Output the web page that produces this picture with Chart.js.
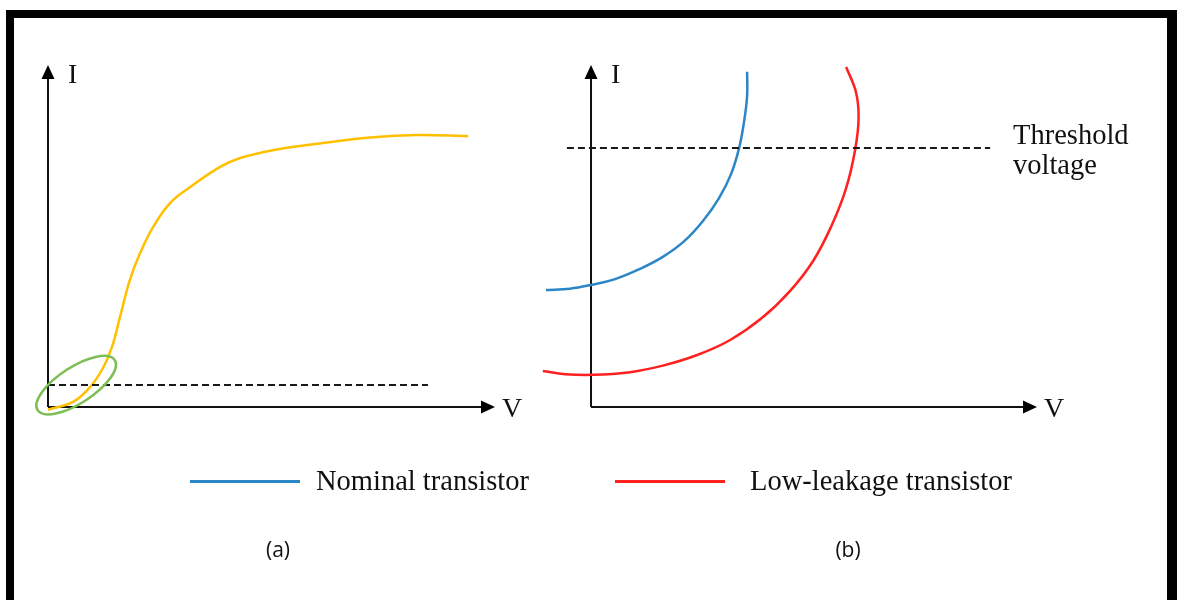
<!DOCTYPE html>
<html>
<head>
<meta charset="utf-8">
<script src="https://cdn.jsdelivr.net/npm/chart.js@4.4.1/dist/chart.umd.min.js"></script>
<style>
    html, body { margin: 0; padding: 0; background: #fff; }
    #page { position: relative; width: 1177px; height: 600px; overflow: hidden; background: #fff; }
    #frame {
        position: absolute; left: 6px; top: 10px; width: 1171px; height: 620px;
        box-sizing: border-box;
        border-top: 8px solid #000; border-left: 8px solid #000; border-right: 10px solid #000;
    }
    canvas { position: absolute; left: 0; top: 0; }
    .serif {
        position: absolute; white-space: nowrap; color: #111;
        font-family: 'Liberation Serif', 'Times New Roman', serif; font-size: 28.5px; line-height: 28px;
    }
    .cap {
        position: absolute; width: 60px; text-align: center; color: #111;
        font-family: 'Open Sans', sans-serif; font-size: 21px; line-height: 21px;
    }
    .swatch { position: absolute; height: 3px; width: 110px; }
</style>
</head>
<body>
<div id="page">
    <div id="frame"></div>
    <canvas id="panelA" width="1177" height="600"></canvas>
    <canvas id="panelB" width="1177" height="600"></canvas>

    <div class="serif" style="left:1013px; top:120px; line-height:30px;">Threshold<br>voltage</div>

    <div class="swatch" style="left:190px; top:480px; background:#2b86c8;"></div>
    <div class="serif" style="left:316px; top:467px;">Nominal transistor</div>
    <div class="swatch" style="left:615px; top:480px; background:#ff2020;"></div>
    <div class="serif" style="left:750px; top:467px;">Low-leakage transistor</div>

    <div class="cap" style="left:248px; top:539px;">(a)</div>
    <div class="cap" style="left:818px; top:539px;">(b)</div>
</div>

<script>
/* ---------- data (arbitrary V / I units, 0..10 on each axis) ---------- */

// (a) I-V curve
const curveV = [0, 0.56, 0.94, 1.23, 1.43, 1.61, 1.83, 2.06, 2.35, 2.73, 3.18, 3.85, 4.30, 5.03, 6.15, 7.27, 8.26, 9.40];
const curveI = [-0.08, 0.15, 0.58, 1.14, 1.75, 2.63, 3.71, 4.50, 5.26, 5.96, 6.43, 7.02, 7.28, 7.51, 7.72, 7.89, 7.95, 7.92];
const leakLevelV = [0, 8.5];
const leakLevelI = 0.64;
const leakSpot = { v: 0.63, i: 0.64 };

// (b) nominal vs low-leakage transistor
const nominalV = [-1.01, -0.47, 0, 0.54, 1.10, 1.61, 2.09, 2.51, 2.87, 3.14, 3.32, 3.43, 3.50, 3.50];
const nominalI = [3.42, 3.46, 3.57, 3.74, 4.04, 4.39, 4.85, 5.44, 6.11, 6.81, 7.57, 8.33, 9.09, 9.80];
const lowLeakV = [-1.08, -0.58, 0.04, 0.83, 1.61, 2.38, 3.12, 3.83, 4.46, 4.98, 5.40, 5.72, 5.92, 6.00, 5.94, 5.72];
const lowLeakI = [1.05, 0.96, 0.94, 1.01, 1.21, 1.52, 1.96, 2.60, 3.39, 4.27, 5.32, 6.40, 7.51, 8.45, 9.21, 9.94];
const thresholdV = [-0.54, 8.95];
const thresholdI = 7.57;

const YELLOW = '#ffc000';
const BLUE = '#2b86c8';
const RED = '#ff2020';
const GREEN = '#7dbe54';

const pts = (xs, ys) => xs.map((x, k) => ({ x, y: Array.isArray(ys) ? ys[k] : ys }));

/* Axes with arrow heads + I / V labels (axes cross at V = 0, I = 0) */
const arrowAxes = {
    id: 'arrowAxes',
    beforeDatasetsDraw(chart) {
        const { ctx, scales: { x, y } } = chart;
        const x0 = x.getPixelForValue(0), y0 = y.getPixelForValue(0);
        const xEnd = x.getPixelForValue(10), yEnd = y.getPixelForValue(10);
        const head = 14, half = 6.5;
        ctx.save();
        ctx.strokeStyle = '#111';
        ctx.fillStyle = '#000';
        ctx.lineWidth = 2;
        ctx.beginPath();
        ctx.moveTo(x0, y0); ctx.lineTo(x0, yEnd + head - 1);
        ctx.moveTo(x0, y0); ctx.lineTo(xEnd - head + 1, y0);
        ctx.stroke();
        ctx.beginPath();
        ctx.moveTo(x0, yEnd); ctx.lineTo(x0 - half, yEnd + head); ctx.lineTo(x0 + half, yEnd + head);
        ctx.closePath();
        ctx.moveTo(xEnd, y0); ctx.lineTo(xEnd - head, y0 - half); ctx.lineTo(xEnd - head, y0 + half);
        ctx.closePath();
        ctx.fill();
        ctx.font = "28px 'Liberation Serif', serif";
        ctx.fillStyle = '#111';
        ctx.textBaseline = 'middle';
        ctx.fillText('I', x0 + 20, yEnd + 11);
        ctx.fillText('V', xEnd + 7, y0 + 3);
        ctx.restore();
    },
};

/* Green ring round the leakage region in (a) */
const leakRing = {
    id: 'leakRing',
    afterDatasetsDraw(chart) {
        const { ctx, scales: { x, y } } = chart;
        ctx.save();
        ctx.strokeStyle = GREEN;
        ctx.lineWidth = 2.5;
        ctx.beginPath();
        ctx.ellipse(x.getPixelForValue(leakSpot.v), y.getPixelForValue(leakSpot.i), 46, 18, -33 * Math.PI / 180, 0, Math.PI * 2);
        ctx.stroke();
        ctx.restore();
    },
};

function line(data, color, width, dash) {
    return {
        data,
        showLine: true,
        borderColor: color,
        borderWidth: width,
        borderDash: dash || [],
        pointRadius: 0,
        tension: dash ? 0 : 0.4,
        clip: false,
    };
}

function panel(id, padding, xMin, datasets, plugins) {
    return new Chart(document.getElementById(id), {
        type: 'scatter',
        data: { datasets },
        plugins,
        options: {
            responsive: false,
            animation: false,
            events: [],
            layout: { padding },
            elements: { line: { capBezierPoints: false } },
            plugins: { legend: { display: false }, tooltip: { enabled: false } },
            scales: {
                x: { type: 'linear', min: xMin, max: 10, display: false },
                y: { type: 'linear', min: 0, max: 10, display: false },
            },
        },
    });
}

panel('panelA', { left: 48, right: 682, top: 65, bottom: 193 }, 0, [
    line(pts(leakLevelV, leakLevelI), '#1a1a1a', 2, [7, 4]),
    line(pts(curveV, curveI), YELLOW, 2.5),
], [arrowAxes, leakRing]);

panel('panelB', { left: 537.5, right: 140, top: 65, bottom: 193 }, -1.2, [
    line(pts(thresholdV, thresholdI), '#1a1a1a', 2, [7, 4]),
    line(pts(nominalV, nominalI), BLUE, 2.5),
    line(pts(lowLeakV, lowLeakI), RED, 2.5),
], [arrowAxes]);
</script>
</body>
</html>
